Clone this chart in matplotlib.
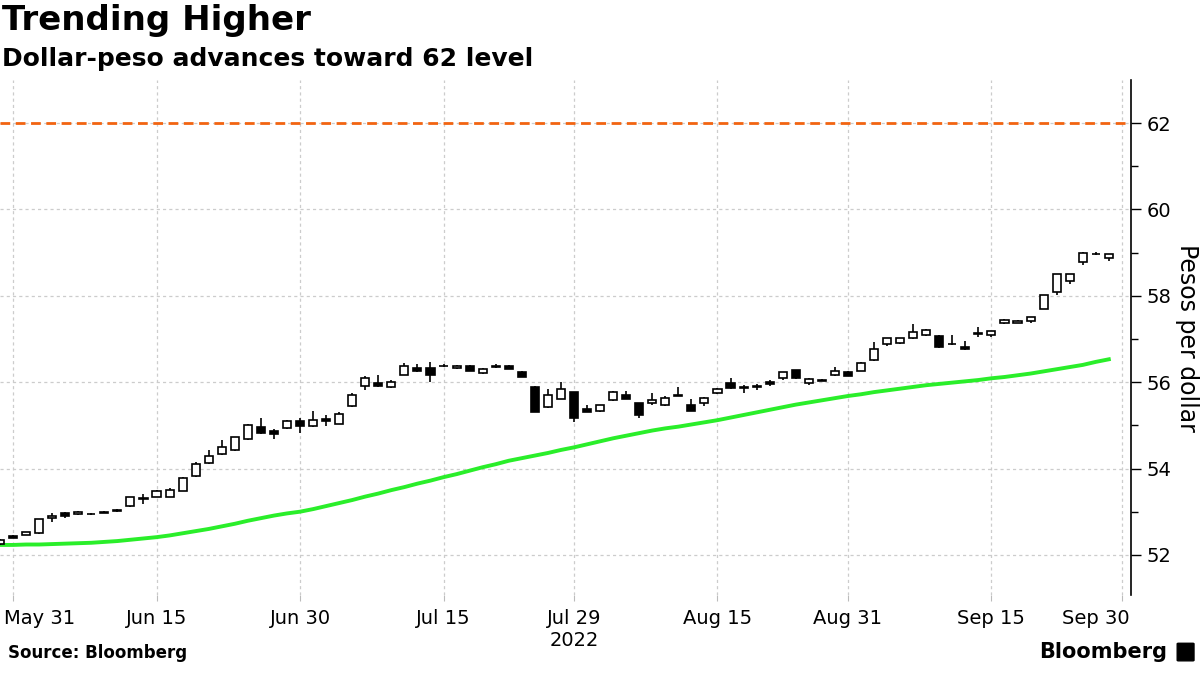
import numpy as np
import matplotlib
matplotlib.use("Agg")
import matplotlib.pyplot as plt
import matplotlib.transforms as mtransforms
from matplotlib.patches import FancyBboxPatch

# Daily USD/PHP candles, one per trading day (day -1 = May 30, day 0 = May 31 2022)
day = list(range(-1, 85))
opens = [52.25, 52.44, 52.46, 52.50, 52.85, 52.97, 52.94, 52.94, 52.98, 53.05,
         53.13, 53.29, 53.34, 53.34, 53.49, 53.82, 54.12, 54.33, 54.42, 54.68,
         54.96, 54.87, 54.93, 55.11, 54.99, 55.15, 55.03, 55.44, 55.92, 55.97,
         55.88, 56.17, 56.33, 56.33, 56.37, 56.32, 56.37, 56.21, 56.36, 56.37,
         56.23, 55.88, 55.42, 55.61, 55.77, 55.38, 55.33, 55.58, 55.70, 55.51,
         55.51, 55.46, 55.69, 55.47, 55.51, 55.74, 55.99, 55.89, 55.88, 56.01,
         56.10, 56.28, 55.98, 56.03, 56.16, 56.24, 56.27, 56.51, 56.88, 56.90,
         57.02, 57.09, 57.07, 56.88, 56.81, 57.13, 57.10, 57.36, 57.37, 57.41,
         57.70, 58.10, 58.35, 58.78, 58.98, 58.87]
highs = [52.37, 52.46, 52.54, 52.84, 52.97, 52.99, 53.02, 52.96, 53.01, 53.06,
         53.35, 53.41, 53.50, 53.55, 53.80, 54.14, 54.43, 54.66, 54.74, 55.04,
         55.16, 54.91, 55.12, 55.17, 55.33, 55.23, 55.31, 55.76, 56.14, 56.17,
         56.05, 56.45, 56.43, 56.46, 56.43, 56.40, 56.39, 56.33, 56.42, 56.40,
         56.27, 55.91, 55.84, 56.00, 55.78, 55.46, 55.48, 55.80, 55.80, 55.52,
         55.74, 55.67, 55.88, 55.61, 55.66, 55.86, 56.10, 55.94, 55.96, 56.05,
         56.23, 56.29, 56.10, 56.08, 56.35, 56.26, 56.47, 56.92, 57.03, 57.03,
         57.34, 57.24, 57.10, 57.09, 56.96, 57.28, 57.19, 57.46, 57.43, 57.51,
         58.03, 58.51, 58.51, 59.01, 59.01, 58.97]
lows = [52.22, 52.39, 52.45, 52.49, 52.75, 52.86, 52.92, 52.92, 52.97, 53.00,
        53.12, 53.17, 53.33, 53.33, 53.47, 53.80, 54.11, 54.32, 54.40, 54.65,
        54.80, 54.68, 54.92, 54.82, 54.96, 54.98, 55.02, 55.43, 55.82, 55.88,
        55.87, 56.16, 56.24, 56.00, 56.36, 56.31, 56.27, 56.20, 56.33, 56.30,
        56.12, 55.30, 55.41, 55.60, 55.07, 55.32, 55.32, 55.57, 55.60, 55.16,
        55.48, 55.44, 55.68, 55.33, 55.45, 55.73, 55.84, 55.75, 55.82, 55.92,
        56.06, 56.08, 55.94, 56.02, 56.14, 56.14, 56.26, 56.50, 56.84, 56.89,
        57.01, 57.08, 56.80, 56.87, 56.75, 57.04, 57.04, 57.35, 57.36, 57.38,
        57.69, 58.02, 58.28, 58.72, 58.94, 58.80]
closes = [52.35, 52.40, 52.53, 52.83, 52.90, 52.89, 53.00, 52.95, 52.99, 53.01,
          53.33, 53.31, 53.48, 53.50, 53.78, 54.10, 54.29, 54.50, 54.73, 55.01,
          54.82, 54.79, 55.10, 54.99, 55.12, 55.09, 55.26, 55.70, 56.09, 55.92,
          56.00, 56.38, 56.27, 56.16, 56.38, 56.38, 56.27, 56.30, 56.37, 56.30,
          56.12, 55.32, 55.70, 55.84, 55.16, 55.32, 55.47, 55.77, 55.62, 55.23,
          55.59, 55.63, 55.70, 55.33, 55.64, 55.84, 55.86, 55.87, 55.90, 55.96,
          56.23, 56.09, 56.08, 56.05, 56.25, 56.15, 56.45, 56.78, 57.02, 57.02,
          57.16, 57.21, 56.82, 56.89, 56.78, 57.11, 57.18, 57.44, 57.42, 57.50,
          58.02, 58.50, 58.50, 59.00, 58.96, 58.96]
# moving average (green)
ma = [52.23, 52.23, 52.24, 52.24, 52.25, 52.26, 52.27, 52.28, 52.30, 52.32,
      52.35, 52.38, 52.41, 52.45, 52.50, 52.55, 52.60, 52.66, 52.72, 52.79,
      52.85, 52.91, 52.96, 53.00, 53.06, 53.13, 53.20, 53.27, 53.35, 53.42,
      53.50, 53.57, 53.65, 53.72, 53.80, 53.87, 53.95, 54.03, 54.10, 54.18,
      54.24, 54.30, 54.36, 54.43, 54.49, 54.56, 54.63, 54.70, 54.76, 54.82,
      54.88, 54.93, 54.97, 55.02, 55.07, 55.12, 55.18, 55.24, 55.30, 55.36,
      55.42, 55.48, 55.53, 55.58, 55.63, 55.68, 55.72, 55.77, 55.81, 55.85,
      55.89, 55.93, 55.96, 55.99, 56.02, 56.05, 56.09, 56.12, 56.16, 56.20,
      56.25, 56.30, 56.35, 56.40, 56.47, 56.53]
level = 62

tick_days = [0, 11, 22, 33, 43, 54, 64, 75, 85]
tick_labels = ["May 31", "Jun 15", "Jun 30", "Jul 15", "Jul 29\n2022",
               "Aug 15", "Aug 31", "Sep 15", "Sep 30"]

fig = plt.figure(figsize=(12, 6.75), dpi=100)
ax = fig.add_axes([0.0, 0.1185, 0.9425, 0.763])

o = np.array(opens)
c = np.array(closes)
up = c >= o
body_lo = np.minimum(o, c)
body_h = np.maximum(np.abs(c - o), 0.012)

ax.vlines(day, lows, highs, color="black", lw=1.2, zorder=3)
ax.bar(day, body_h, bottom=body_lo, width=0.62,
       color=np.where(up, "white", "black"), edgecolor="black",
       linewidth=1.2, zorder=4)

ax.plot(day, ma, color="#2aee2a", lw=2.8, zorder=2)
ax.axhline(level, color="#f26411", lw=2.0, dashes=(3.5, 2), zorder=2)

ax.set_xlim(-1.0, 85.7)
ax.set_ylim(51.07, 63.0)

ax.set_xticks(tick_days)
ax.set_xticklabels(tick_labels, fontsize=14)
ax.tick_params(axis="x", length=4, color="#bbbbbb", pad=6)
lbls = ax.get_xticklabels()
lbls[0].set_ha("left")
lbls[0].set_transform(lbls[0].get_transform() +
                      mtransforms.ScaledTranslation(-9 / 100, 0, fig.dpi_scale_trans))
lbls[-1].set_ha("right")
lbls[-1].set_transform(lbls[-1].get_transform() +
                       mtransforms.ScaledTranslation(8 / 100, 0, fig.dpi_scale_trans))

ax.yaxis.tick_right()
ax.yaxis.set_label_position("right")
ax.set_yticks([52, 54, 56, 58, 60, 62])
ax.set_yticks(range(52, 63), minor=True)
ax.tick_params(axis="y", which="major", length=7, width=1, labelsize=14, pad=4)
ax.tick_params(axis="y", which="minor", length=5, width=1)
ax.set_ylabel("Pesos per dollar", fontsize=17, rotation=270, labelpad=20)

ax.grid(True, color="#cccccc", lw=0.9, linestyle=(0, (2.5, 2.5)))
ax.set_axisbelow(True)
for s in ["top", "left", "bottom"]:
    ax.spines[s].set_visible(False)
ax.spines["right"].set_linewidth(1.2)

fig.text(0.002, 0.994, "Trending Higher", fontsize=24.5, fontweight="bold", va="top")
fig.text(0.002, 0.93, "Dollar-peso advances toward 62 level", fontsize=18,
         fontweight="bold", va="top")
fig.text(0.007, 0.019, "Source: Bloomberg", fontsize=12, fontweight="bold", va="bottom")
fig.text(0.973, 0.019, "Bloomberg", fontsize=15, fontweight="bold", va="bottom", ha="right")
fig.patches.append(FancyBboxPatch((0.982, 0.022), 0.012, 0.024, boxstyle="round,pad=0.001",
                                  transform=fig.transFigure, facecolor="black",
                                  edgecolor="black", figure=fig))

fig.savefig("out.png", dpi=100)
